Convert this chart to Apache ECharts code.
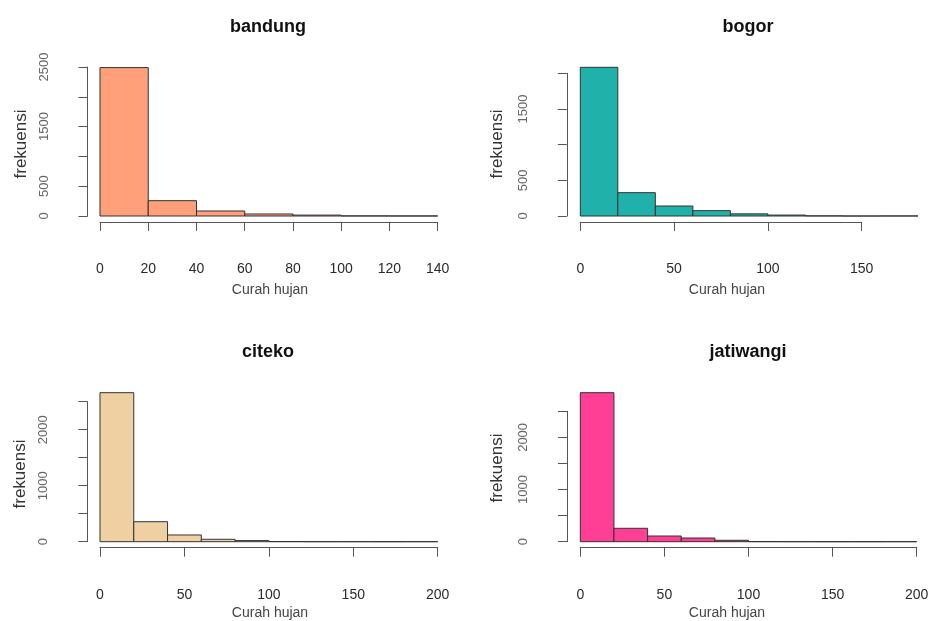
<!DOCTYPE html>
<html>
<head>
<meta charset="utf-8">
<script src="https://cdn.jsdelivr.net/npm/echarts@6/dist/echarts.min.js"></script>
<style>
  html, body { margin: 0; padding: 0; background: #fff; }
  #chart { width: 928px; height: 621px; }
</style>
</head>
<body>
<div id="chart"></div>
<script>
// Rainfall histograms for four stations (bins of 20 mm)
const stations = ['bandung', 'bogor', 'citeko', 'jatiwangi'];

const bandungBreaks = [0, 20, 40, 60, 80, 100, 120, 140];
const bandungCounts = [2490, 257, 84, 34, 15, 2, 1];

const bogorBreaks = [0, 20, 40, 60, 80, 100, 120, 140, 160, 180];
const bogorCounts = [2084, 327, 140, 75, 30, 13, 2, 0, 1];

const citekoBreaks = [0, 20, 40, 60, 80, 100, 120, 140, 160, 180, 200];
const citekoCounts = [2661, 357, 120, 43, 20, 3, 1, 1, 0, 1];

const jatiwangiBreaks = [0, 20, 40, 60, 80, 100, 120, 140, 160, 180, 200];
const jatiwangiCounts = [2857, 257, 109, 71, 27, 2, 1, 0, 0, 1];

// axis ranges and tick labels
const bandungXTicks = { max: 140, step: 20 };
const bogorXTicks = { max: 150, step: 50 };
const citekoXTicks = { max: 200, step: 50 };
const jatiwangiXTicks = { max: 200, step: 50 };

const bandungYTicks = { max: 2500, step: 500, shown: [0, 500, 1500, 2500] };
const bogorYTicks = { max: 2000, step: 500, shown: [0, 500, 1500] };
const citekoYTicks = { max: 2500, step: 500, shown: [0, 1000, 2000] };
const jatiwangiYTicks = { max: 2500, step: 500, shown: [0, 1000, 2000] };

const xLabel = 'Curah hujan';
const yLabel = 'frekuensi';

const panels = [
  { name: stations[0], breaks: bandungBreaks, counts: bandungCounts, xt: bandungXTicks, yt: bandungYTicks },
  { name: stations[1], breaks: bogorBreaks, counts: bogorCounts, xt: bogorXTicks, yt: bogorYTicks },
  { name: stations[2], breaks: citekoBreaks, counts: citekoCounts, xt: citekoXTicks, yt: citekoYTicks },
  { name: stations[3], breaks: jatiwangiBreaks, counts: jatiwangiCounts, xt: jatiwangiXTicks, yt: jatiwangiYTicks }
];

// layout: grid spans the tick range of each axis; axes are pushed outward like base R plots
const layout = [
  { grid: { left: 100, top: 67, width: 337.7, height: 149 }, yOff: 12.5, fill: '#FFA07A',
    title: [268, 27], xName: [270, 290], yName: [21, 144] },
  { grid: { left: 580.3, top: 73.3, width: 281.4, height: 142.7 }, yOff: 13.5, fill: '#20B2AA',
    title: [748, 27], xName: [727, 290], yName: [497, 144] },
  { grid: { left: 100, top: 401.7, width: 337.7, height: 140 }, yOff: 12.7, fill: '#EFD0A2',
    title: [268, 352], xName: [270, 613], yName: [20, 474] },
  { grid: { left: 580.3, top: 411.3, width: 336.4, height: 130.4 }, yOff: 13.3, fill: '#FF3E96',
    title: [748, 352], xName: [727, 613], yName: [497, 468] }
];

const FONT = '"Liberation Sans", Arial, sans-serif';
const AXIS_COLOR = '#555';

const grids = [], xAxes = [], yAxes = [], series = [], graphics = [];

panels.forEach((p, i) => {
  const L = layout[i];
  grids.push(Object.assign({ containLabel: false, outerBoundsMode: 'none' }, L.grid));

  xAxes.push({
    type: 'value', gridIndex: i, min: 0, max: p.xt.max, interval: p.xt.step,
    position: 'bottom', offset: 6,
    axisLine: { show: true, onZero: false, lineStyle: { color: AXIS_COLOR, width: 1 } },
    axisTick: { show: true, length: 9, lineStyle: { color: AXIS_COLOR, width: 1 } },
    axisLabel: { margin: 40, fontSize: 14, color: '#2a2a2a', fontFamily: FONT },
    splitLine: { show: false }
  });

  const shown = p.yt.shown;
  yAxes.push({
    type: 'value', gridIndex: i, min: 0, max: p.yt.max, interval: p.yt.step,
    position: 'left', offset: L.yOff,
    axisLine: { show: true, onZero: false, lineStyle: { color: AXIS_COLOR, width: 1 } },
    axisTick: { show: true, length: 9, lineStyle: { color: AXIS_COLOR, width: 1 } },
    axisLabel: {
      rotate: 90, margin: 37, fontSize: 13, color: '#666', fontFamily: FONT,
      formatter: v => (shown.indexOf(v) >= 0 ? String(v) : '')
    },
    splitLine: { show: false }
  });

  const data = p.counts.map((c, k) => [p.breaks[k], p.breaks[k + 1], c]);
  series.push({
    type: 'custom', xAxisIndex: i, yAxisIndex: i, clip: false,
    encode: { x: [0, 1], y: 2 },
    data: data,
    renderItem: (params, api) => {
      const a = api.coord([api.value(0), 0]);
      const b = api.coord([api.value(1), api.value(2)]);
      return {
        type: 'rect',
        shape: { x: a[0], y: b[1], width: b[0] - a[0], height: a[1] - b[1] },
        style: { fill: L.fill, stroke: '#333', lineWidth: 1 }
      };
    }
  });

  graphics.push({
    type: 'text', x: L.title[0], y: L.title[1],
    style: { text: p.name, font: 'bold 18px ' + FONT, fill: '#111', textAlign: 'center', textVerticalAlign: 'middle' }
  });
  graphics.push({
    type: 'text', x: L.xName[0], y: L.xName[1],
    style: { text: xLabel, font: '14px ' + FONT, fill: '#444', textAlign: 'center', textVerticalAlign: 'middle' }
  });
  graphics.push({
    type: 'text', x: L.yName[0], y: L.yName[1], rotation: Math.PI / 2,
    style: { text: yLabel, font: '17px ' + FONT, fill: '#333', textAlign: 'center', textVerticalAlign: 'middle' }
  });
});

const chart = echarts.init(document.getElementById('chart'), null, { renderer: 'canvas' });
chart.setOption({
  animation: false,
  backgroundColor: '#fff',
  grid: grids,
  xAxis: xAxes,
  yAxis: yAxes,
  series: series,
  graphic: graphics
});
</script>
</body>
</html>
